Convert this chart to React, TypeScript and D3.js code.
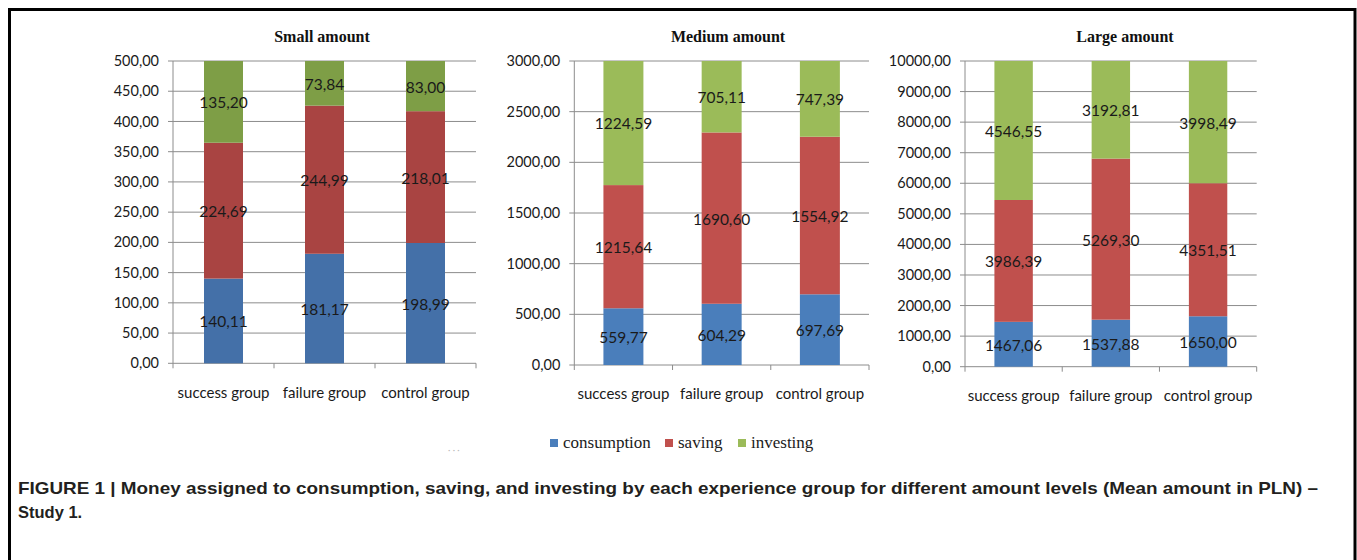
import React from "react";
import * as d3 from "d3";

const groups = ["success group", "failure group", "control group"];
const seriesNames = ["consumption", "saving", "investing"];

const smallConsumption = [140.11, 181.17, 198.99];
const smallSaving = [224.69, 244.99, 218.01];
const smallInvesting = [135.2, 73.84, 83.0];

const mediumConsumption = [559.77, 604.29, 697.69];
const mediumSaving = [1215.64, 1690.6, 1554.92];
const mediumInvesting = [1224.59, 705.11, 747.39];

const largeConsumption = [1467.06, 1537.88, 1650.0];
const largeSaving = [3986.39, 5269.3, 4351.51];
const largeInvesting = [4546.55, 3192.81, 3998.49];

const smallTicks = d3.range(0, 501, 50);
const mediumTicks = d3.range(0, 3001, 500);
const largeTicks = d3.range(0, 10001, 1000);

const caption1 =
  "FIGURE 1 | Money assigned to consumption, saving, and investing by each experience group for different amount levels (Mean amount in PLN) –";
const caption2 = "Study 1.";

const legendColors = ["#4A7EBB", "#C0504D", "#9BBB59"];

const panels = [
  {
    title: "Small amount",
    series: [smallConsumption, smallSaving, smallInvesting],
    ticks: smallTicks,
    max: 500,
    x0: 173,
    x1: 476,
    yTop: 61,
    yBot: 363.3,
    titleX: 322,
    barFrac: 0.386,
    colors: ["#4470A8", "#A94442", "#7E9E46"],
  },
  {
    title: "Medium amount",
    series: [mediumConsumption, mediumSaving, mediumInvesting],
    ticks: mediumTicks,
    max: 3000,
    x0: 574.3,
    x1: 869,
    yTop: 61,
    yBot: 365,
    titleX: 728,
    barFrac: 0.407,
    colors: ["#4A7EBB", "#C0504D", "#9BBB59"],
  },
  {
    title: "Large amount",
    series: [largeConsumption, largeSaving, largeInvesting],
    ticks: largeTicks,
    max: 10000,
    x0: 965,
    x1: 1256.7,
    yTop: 61,
    yBot: 366.7,
    titleX: 1125,
    barFrac: 0.395,
    colors: ["#4A7EBB", "#C0504D", "#9BBB59"],
  },
];

const fmt = (v: number) => d3.format(".2f")(v).replace(".", ",");

const numFont = "Lato, 'Open Sans', sans-serif";

function Panel({ p }: { p: (typeof panels)[number] }) {
  const x = d3.scaleBand<string>().domain(groups).range([p.x0, p.x1]).padding(0);
  const y = d3.scaleLinear().domain([0, p.max]).range([p.yBot, p.yTop]);
  const stackData = groups.map((g, i) => {
    const row: any = { group: g };
    seriesNames.forEach((s, k) => (row[s] = p.series[k][i]));
    return row;
  });
  const stacked = d3.stack<any>().keys(seriesNames)(stackData);
  const bw = x.bandwidth() * p.barFrac;
  const gridColor = "#8C8C8C";
  return (
    <g>
      <text
        x={p.titleX}
        y={41.5}
        textAnchor="middle"
        fontFamily="'Liberation Serif', 'Times New Roman', serif"
        fontWeight="bold"
        fontSize={16}
        fill="#111"
      >
        {p.title}
      </text>
      {p.ticks.map((t) => (
        <g key={t}>
          <line
            x1={p.x0 - 5}
            x2={p.x1}
            y1={y(t)}
            y2={y(t)}
            stroke={gridColor}
            strokeWidth={1}
          />
          <text
            x={p.x0 - 14}
            y={y(t)}
            dy="0.35em"
            textAnchor="end"
            fontFamily={numFont}
            fontSize={14.5}
            fill="#1a1a1a"
          >
            {fmt(t)}
          </text>
        </g>
      ))}
      <line x1={p.x0} x2={p.x0} y1={p.yTop} y2={p.yBot} stroke={gridColor} strokeWidth={1} />
      {groups.map((g, i) => (
        <line
          key={"tk" + g}
          x1={p.x0 + x.step() * (i + 1)}
          x2={p.x0 + x.step() * (i + 1)}
          y1={p.yBot}
          y2={p.yBot + 5}
          stroke={gridColor}
        />
      ))}
      <line x1={p.x0} x2={p.x0} y1={p.yBot} y2={p.yBot + 5} stroke={gridColor} />
      {stacked.map((layer, k) =>
        layer.map((d, i) => {
          const cx = (x(groups[i]) as number) + x.bandwidth() / 2;
          return (
            <rect
              key={k + "-" + i}
              x={cx - bw / 2}
              y={y(d[1])}
              width={bw}
              height={y(d[0]) - y(d[1])}
              fill={p.colors[k]}
            />
          );
        })
      )}
      {stacked.map((layer, k) =>
        layer.map((d, i) => {
          const cx = (x(groups[i]) as number) + x.bandwidth() / 2;
          return (
            <text
              key={"l" + k + "-" + i}
              x={cx}
              y={y((d[0] + d[1]) / 2) + 1}
              dy="0.35em"
              textAnchor="middle"
              fontFamily={numFont}
              fontSize={15.5}
              fill="#1a1a1a"
            >
              {fmt(p.series[k][i])}
            </text>
          );
        })
      )}
      {groups.map((g) => (
        <text
          key={"c" + g}
          x={(x(g) as number) + x.bandwidth() / 2}
          y={p.yBot + 29}
          dy="0.35em"
          textAnchor="middle"
          fontFamily={numFont}
          fontSize={15}
          fill="#1a1a1a"
        >
          {g}
        </text>
      ))}
    </g>
  );
}

export default function App() {
  const legendX = [550, 665, 738];
  return (
    <svg
      width={1357}
      height={560}
      style={{ position: "absolute", left: 0, top: 0, background: "#fff" }}
    >
      <rect x={0} y={0} width={1357} height={560} fill="#fff" />
      <rect x={9.5} y={9.5} width={1345.5} height={620} fill="none" stroke="#000" strokeWidth={3} />
      {panels.map((p) => (
        <Panel key={p.title} p={p} />
      ))}
      {seriesNames.map((s, k) => (
        <g key={s}>
          <rect x={legendX[k]} y={439} width={8} height={8} fill={legendColors[k]} />
          <text
            x={legendX[k] + 13}
            y={448}
            fontFamily="'Liberation Serif', 'Times New Roman', serif"
            fontSize={17}
            fill="#1a1a1a"
          >
            {s}
          </text>
        </g>
      ))}
      <text x={448} y={453} fontFamily="Lato, sans-serif" fontSize={9} fill="#bbb">
        · · ·
      </text>
      <text
        x={18}
        y={494}
        fontFamily="'Liberation Sans', Arial, sans-serif"
        fontWeight="bold"
        fontSize={16.5}
        fill="#231f20"
        textLength={1300}
        lengthAdjust="spacingAndGlyphs"
      >
        {caption1}
      </text>
      <text
        x={18}
        y={518}
        fontFamily="'Liberation Sans', Arial, sans-serif"
        fontWeight="bold"
        fontSize={16.5}
        fill="#231f20"
      >
        {caption2}
      </text>
    </svg>
  );
}
